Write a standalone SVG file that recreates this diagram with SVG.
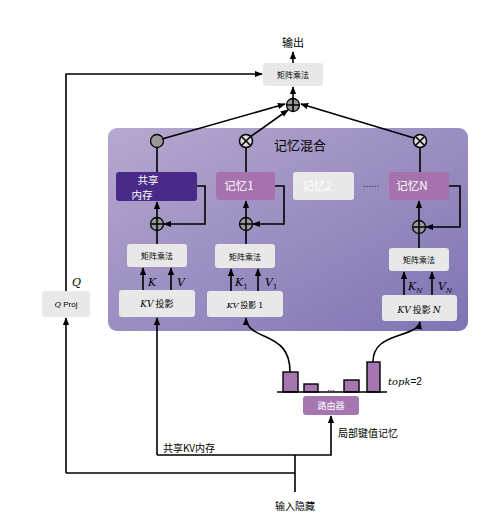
<svg xmlns="http://www.w3.org/2000/svg" width="494" height="516" viewBox="0 0 494 516">
<defs>
<linearGradient id="bg" x1="0" y1="0" x2="1" y2="1">
<stop offset="0" stop-color="#b6a8cf"/>
<stop offset="1" stop-color="#7f74b3"/>
</linearGradient>
<marker id="ar" viewBox="0 0 10 10" refX="9" refY="5" markerWidth="5" markerHeight="5" orient="auto-start-reverse">
<path d="M0,1 L10,5 L0,9 z" fill="#000"/>
</marker>
</defs>
<style>
.cn{font-family:"Noto Sans CJK SC","Noto Sans",sans-serif;fill:#000}
.gb{fill:#e8e8e8;stroke:none}
.ln{fill:none;stroke:#000;stroke-width:1.6}
.m{font-family:"DejaVu Serif","Liberation Serif",serif;font-style:italic;fill:#000}
.pc{fill:#999;stroke:#000;stroke-width:1.3}
.bar{fill:#a676b0;stroke:#000;stroke-width:1.4}
.wt{fill:#fff}
</style>
<rect id="mix-panel" x="108" y="128" width="360" height="203" rx="9" fill="url(#bg)"/>
<g id="mix-label"><text class="cn" x="300" y="150" font-size="13" text-anchor="middle">记忆混合</text></g>

<g id="out-label"><text class="cn" x="293" y="47" font-size="11" text-anchor="middle">输出</text></g>
<g id="top-matmul"><rect class="gb" x="263" y="63" width="60" height="23" rx="3"/><text class="cn" x="293" y="78" font-size="8" text-anchor="middle">矩阵乘法</text></g>
<g id="sum-top"><circle class="pc" cx="293" cy="105" r="6.5"/><path class="ln" d="M286.5,105 H299.5 M293,98.5 V111.5" stroke-width="1.3"/></g>
<g id="gate-shared"><circle class="pc" cx="157" cy="141" r="6.5"/></g>
<g id="gate-1"><circle cx="246" cy="141" r="6.5" fill="#ddd" stroke="#000" stroke-width="1.5"/><path class="ln" d="M242,137 L250,145 M250,137 L242,145" stroke-width="2"/></g>
<g id="gate-N"><circle cx="420" cy="141" r="6.5" fill="#ddd" stroke="#000" stroke-width="1.5"/><path class="ln" d="M416,137 L424,145 M424,137 L416,145" stroke-width="2"/></g>

<g id="shared-mem"><rect x="116" y="172" width="81" height="29" rx="3" fill="#4a2a88"/><text class="cn wt" x="148" y="184" font-size="10.5" text-anchor="middle">共享</text><text class="cn wt" x="142" y="199" font-size="10.5" text-anchor="middle">内存</text></g>
<g id="mem-1"><rect x="216" y="172" width="59" height="28" rx="3" fill="#a572ad"/><text class="cn wt" x="239" y="190" font-size="11.5" text-anchor="middle">记忆1</text></g>
<g id="mem-2"><rect x="293" y="172" width="61" height="28" rx="3" fill="#e8e8e8"/><text class="cn wt" x="317" y="190" font-size="11.5" text-anchor="middle">记忆2</text></g>
<g id="dots"><text x="371" y="187" font-size="10" font-family="Liberation Sans,sans-serif" fill="#333" text-anchor="middle">......</text></g>
<g id="mem-N"><rect x="389" y="172" width="60" height="28" rx="3" fill="#a572ad"/><text class="cn wt" x="412" y="190" font-size="11.5" text-anchor="middle">记忆N</text></g>

<g id="sum-shared"><circle class="pc" cx="157" cy="224" r="6.5"/><path class="ln" d="M150.5,224 H163.5 M157,217.5 V230.5" stroke-width="1.3"/></g>
<g id="sum-1"><circle class="pc" cx="246" cy="224" r="6.5"/><path class="ln" d="M239.5,224 H252.5 M246,217.5 V230.5" stroke-width="1.3"/></g>
<g id="sum-N"><circle class="pc" cx="419" cy="227" r="6.5"/><path class="ln" d="M412.5,227 H425.5 M419,220.5 V233.5" stroke-width="1.3"/></g>

<g id="matmul-shared"><rect class="gb" x="127" y="244" width="60" height="23" rx="3"/><text class="cn" x="157" y="259" font-size="8" text-anchor="middle">矩阵乘法</text></g>
<g id="matmul-1"><rect class="gb" x="215" y="244" width="60" height="24" rx="3"/><text class="cn" x="245" y="260" font-size="8" text-anchor="middle">矩阵乘法</text></g>
<g id="matmul-N"><rect class="gb" x="389" y="248" width="60" height="23" rx="3"/><text class="cn" x="419" y="263" font-size="8" text-anchor="middle">矩阵乘法</text></g>

<g id="kv-shared"><rect class="gb" x="119" y="290" width="76" height="27" rx="3"/><text x="157" y="307" font-size="9" text-anchor="middle"><tspan class="m">KV</tspan><tspan class="cn">  投影</tspan></text></g>
<g id="kv-1"><rect class="gb" x="207" y="291" width="76" height="26" rx="3"/><text x="245" y="308" font-size="8" text-anchor="middle"><tspan class="m">KV</tspan><tspan class="cn">  投影 </tspan><tspan class="m" style="font-style:normal">1</tspan></text></g>
<g id="kv-N"><rect class="gb" x="382" y="295" width="75" height="26" rx="3"/><text x="419" y="313" font-size="9" text-anchor="middle"><tspan class="m">KV</tspan><tspan class="cn">  投影 </tspan><tspan class="m">N</tspan></text></g>

<g id="q-proj"><rect class="gb" x="42" y="291" width="48" height="26" rx="3"/><text x="66" y="307" font-size="8" text-anchor="middle"><tspan class="m">Q</tspan><tspan font-family="Liberation Sans,sans-serif"> Proj</tspan></text></g>
<g id="q-label"><text class="m" x="72" y="286" font-size="11">Q</text></g>

<g id="kv-labels">
<text class="m" x="148" y="286" font-size="11">K</text><text class="m" x="177" y="286" font-size="11">V</text>
<text class="m" x="235" y="286" font-size="11">K<tspan font-size="7" dy="3" font-style="normal">1</tspan></text><text class="m" x="265" y="286" font-size="11">V<tspan font-size="7" dy="3" font-style="normal">1</tspan></text>
<text class="m" x="408" y="290" font-size="11">K<tspan font-size="7" dy="3">N</tspan></text><text class="m" x="438" y="290" font-size="11">V<tspan font-size="7" dy="3">N</tspan></text>
</g>

<g id="router-chart">
<rect class="bar" x="283" y="372" width="15" height="20"/>
<rect class="bar" x="304" y="384" width="14" height="8"/>
<rect class="bar" x="344" y="380" width="15" height="12"/>
<rect class="bar" x="367" y="362" width="13" height="30"/>
<path class="ln" d="M277,392 H387" stroke-width="1.3"/>
<text x="331" y="391" font-size="9" font-family="Liberation Sans,sans-serif" text-anchor="middle">...</text>
<text x="388" y="385" font-size="10"><tspan class="m">topk</tspan><tspan font-family="Liberation Sans,sans-serif">=2</tspan></text>
</g>
<g id="router"><rect x="303" y="396" width="56" height="19" rx="3" fill="#a676b0"/><text class="cn wt" x="331" y="409" font-size="9" text-anchor="middle">路由器</text></g>

<g id="labels">
<text class="cn" x="163" y="452" font-size="10">共享KV内存</text>
<text class="cn" x="338" y="437" font-size="10">局部键值记忆</text>
<text class="cn" x="295" y="510" font-size="10" text-anchor="middle">输入隐藏</text>
</g>

<g id="connectors" class="ln">
<path d="M293,63 V52" marker-end="url(#ar)"/>
<path d="M293,98 V87" marker-end="url(#ar)"/>
<path d="M66,291 V74 H262" marker-end="url(#ar)"/>
<path d="M162,139 L285,104" marker-end="url(#ar)"/>
<path d="M250,137 L288,110" marker-end="url(#ar)"/>
<path d="M414,138 L301,104" marker-end="url(#ar)"/>
<path d="M157,172 V147.5"/>
<path d="M246,172 V147.5"/>
<path d="M420,172 V147.5"/>
<path d="M157,217 V202" marker-end="url(#ar)"/>
<path d="M246,217 V201" marker-end="url(#ar)"/>
<path d="M419,220 V201" marker-end="url(#ar)"/>
<path d="M157,244 V230"/>
<path d="M246,244 V230"/>
<path d="M419,248 V233"/>
<path d="M197,186 H205 V224 H164" marker-end="url(#ar)"/>
<path d="M275,186 H284 V224 H253" marker-end="url(#ar)"/>
<path d="M449,186 H460 V227 H426" marker-end="url(#ar)"/>
<path d="M143,290 V268" marker-end="url(#ar)"/>
<path d="M171,290 V268" marker-end="url(#ar)"/>
<path d="M231,291 V269" marker-end="url(#ar)"/>
<path d="M258,291 V269" marker-end="url(#ar)"/>
<path d="M404,295 V272" marker-end="url(#ar)"/>
<path d="M432,295 V272" marker-end="url(#ar)"/>
<path d="M290,372 C290,350 280,343 264,336 C252,331 246,326 246,318" marker-end="url(#ar)"/>
<path d="M373,362 C373,345 385,340 400,335 C412,331 419,328 420,322" marker-end="url(#ar)"/>
<path d="M295,492 V455"/>
<path d="M66,473 H295"/>
<path d="M66,473 V318" marker-end="url(#ar)"/>
<path d="M157,455 H331 V416" marker-end="url(#ar)"/>
<path d="M157,455 V318" marker-end="url(#ar)"/>
</g>
</svg>
